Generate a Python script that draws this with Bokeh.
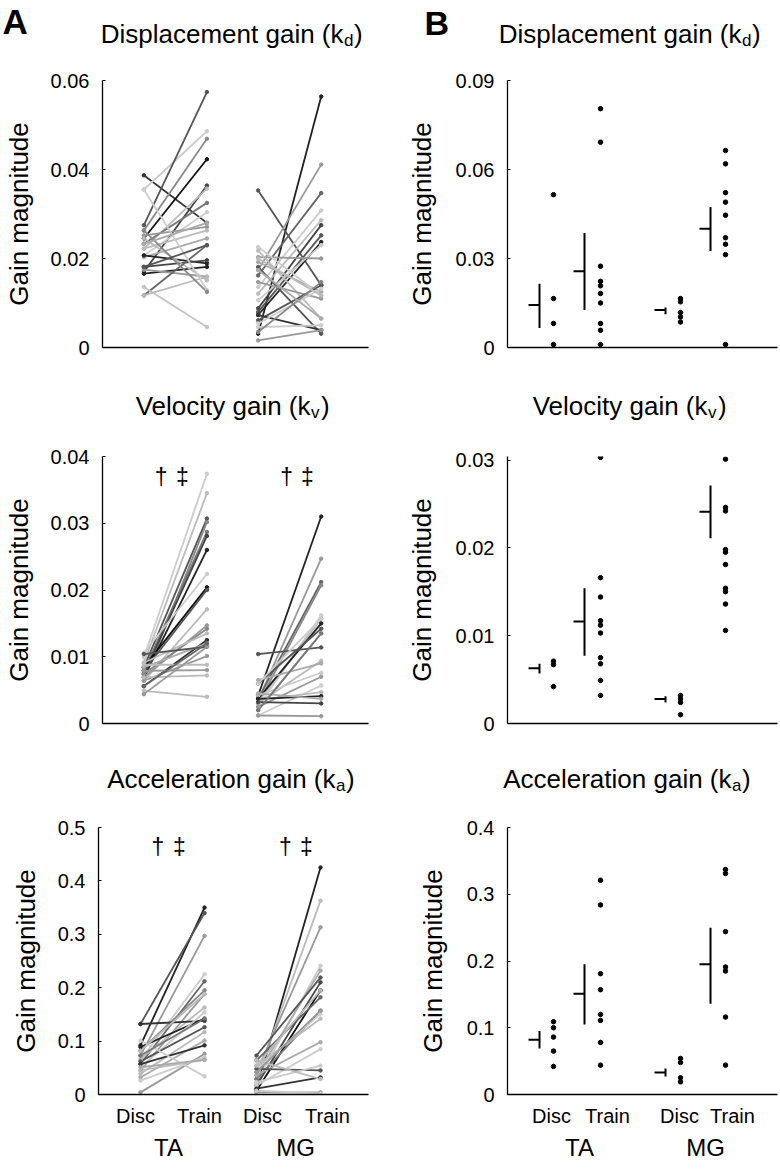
from bokeh.plotting import figure
from bokeh.models import Range1d, FixedTicker, LinearAxis, Label, ColumnDataSource
from bokeh.core.properties import value
from bokeh.layouts import column, row
from bokeh.embed import file_html
from bokeh.resources import INLINE

FONT = "Liberation Sans"

# ---------------- DATA ----------------
groups = ["TA", "MG"]
conditions = ["Disc", "Train"]

# Panel A: individual subjects (Disc -> Train)
kd_TA_disc = [0.0387, 0.0355, 0.0275, 0.0245, 0.0263, 0.0170, 0.0222, 0.0233, 0.0207, 0.0252, 0.0222, 0.0203,
              0.0207, 0.0181, 0.0166, 0.0175, 0.0245, 0.0117, 0.0136, 0.0117, 0.0355, 0.0263, 0.0181, 0.0233]
kd_TA_train = [0.0280, 0.0486, 0.0574, 0.0423, 0.0469, 0.0364, 0.0357, 0.0325, 0.0304, 0.0271, 0.0263, 0.0245,
               0.0189, 0.0196, 0.0181, 0.0159, 0.0151, 0.0230, 0.0046, 0.0159, 0.0129, 0.0125, 0.0230, 0.0280]
kd_MG_disc = [0.0031, 0.0353, 0.0174, 0.0162, 0.0136, 0.0121, 0.0088, 0.0080, 0.0073, 0.0106, 0.0203, 0.0192,
              0.0181, 0.0226, 0.0218, 0.0147, 0.0061, 0.0073, 0.0054, 0.0046, 0.0016, 0.0035, 0.0200, 0.0174]
kd_MG_train = [0.0564, 0.0140, 0.0411, 0.0347, 0.0308, 0.0286, 0.0275, 0.0252, 0.0237, 0.0230, 0.0200, 0.0125,
               0.0031, 0.0117, 0.0065, 0.0110, 0.0140, 0.0039, 0.0132, 0.0050, 0.0039, 0.0147, 0.0117, 0.0065]

kv_TA_disc = [0.0099, 0.0091, 0.0084, 0.0064, 0.0079, 0.0074, 0.0069, 0.0106, 0.0084, 0.0079, 0.0064, 0.0069,
              0.0074, 0.0091, 0.0056, 0.0084, 0.0104, 0.0064, 0.0088, 0.0079, 0.0069, 0.0049, 0.0044, 0.0056]
kv_TA_train = [0.0374, 0.0345, 0.0307, 0.0302, 0.0287, 0.0281, 0.0260, 0.0224, 0.0204, 0.0200, 0.0171, 0.0147,
               0.0142, 0.0135, 0.0125, 0.0120, 0.0115, 0.0101, 0.0088, 0.0080, 0.0072, 0.0040, 0.0115, 0.0120]
kv_MG_disc = [0.0042, 0.0035, 0.0037, 0.0030, 0.0025, 0.0032, 0.0037, 0.0060, 0.0020, 0.0104, 0.0030,
              0.0065, 0.0042, 0.0025, 0.0012, 0.0035, 0.0037, 0.0032, 0.0012, 0.0045, 0.0020, 0.0060]
kv_MG_train = [0.0310, 0.0247, 0.0212, 0.0207, 0.0162, 0.0157, 0.0150, 0.0142, 0.0135, 0.0114, 0.0094,
               0.0090, 0.0076, 0.0070, 0.0057, 0.0047, 0.0041, 0.0030, 0.0011, 0.0037, 0.0135, 0.0157]

ka_TA_disc = [0.092, 0.132, 0.073, 0.064, 0.057, 0.082, 0.045, 0.067, 0.132, 0.089, 0.051,
              0.062, 0.039, 0.032, 0.057, 0.004, 0.026, 0.045, 0.101, 0.073, 0.082, 0.051]
ka_TA_train = [0.350, 0.340, 0.297, 0.225, 0.212, 0.195, 0.188, 0.163, 0.138, 0.142, 0.154,
               0.126, 0.117, 0.101, 0.092, 0.076, 0.070, 0.065, 0.034, 0.142, 0.188, 0.065]
ka_MG_disc = [0.011, 0.029, 0.042, 0.023, 0.036, 0.073, 0.017, 0.007, 0.064, 0.029, 0.048,
              0.054, 0.036, 0.017, 0.048, 0.023, 0.011, 0.064, 0.004, 0.007, 0.042, 0.054]
ka_MG_train = [0.425, 0.363, 0.313, 0.241, 0.232, 0.219, 0.210, 0.195, 0.182, 0.157, 0.151,
               0.142, 0.098, 0.085, 0.045, 0.054, 0.032, 0.029, 0.004, 0.002, 0.157, 0.195]

# Panel B: group data (TA Disc, TA Train, MG Disc, MG Train)
bkd_dots = [[0.0515, 0.0165, 0.0081, 0.0010],
            [0.0805, 0.0692, 0.0274, 0.0223, 0.0208, 0.0182, 0.0150, 0.0081, 0.0058, 0.0010],
            [0.0165, 0.0154, 0.0118, 0.0103, 0.0086],
            [0.0664, 0.0619, 0.0522, 0.0490, 0.0446, 0.0370, 0.0348, 0.0313, 0.0010]]
bkd_mean = [0.0143, 0.0257, 0.0126, 0.0400]
bkd_lo = [0.0066, 0.0126, 0.0112, 0.0325]
bkd_hi = [0.0215, 0.0386, 0.0135, 0.0474]

bkv_dots = [[0.0071, 0.0067, 0.0042],
            [0.0303, 0.0166, 0.0144, 0.0117, 0.0112, 0.0103, 0.0075, 0.0068, 0.0049, 0.0032],
            [0.0032, 0.0028, 0.0024, 0.0010],
            [0.0301, 0.0246, 0.0242, 0.0198, 0.0195, 0.0181, 0.0154, 0.0150, 0.0136, 0.0106]]
bkv_mean = [0.0063, 0.0116, 0.0028, 0.0241]
bkv_lo = [0.0057, 0.0077, 0.0024, 0.0211]
bkv_hi = [0.0068, 0.0154, 0.0031, 0.0271]

bka_dots = [[0.109, 0.100, 0.086, 0.065, 0.042],
            [0.321, 0.284, 0.181, 0.157, 0.120, 0.111, 0.078, 0.044],
            [0.054, 0.048, 0.025, 0.019],
            [0.337, 0.331, 0.244, 0.191, 0.185, 0.116, 0.044]]
bka_mean = [0.082, 0.151, 0.033, 0.195]
bka_lo = [0.069, 0.105, 0.027, 0.136]
bka_hi = [0.095, 0.195, 0.039, 0.250]

# Axis ticks / labels
kd_A_ticks = [0, 0.02, 0.04, 0.06]
kd_A_labels = ["0", "0.02", "0.04", "0.06"]
kv_A_ticks = [0, 0.01, 0.02, 0.03, 0.04]
kv_A_labels = ["0", "0.01", "0.02", "0.03", "0.04"]
ka_A_ticks = [0, 0.1, 0.2, 0.3, 0.4, 0.5]
ka_A_labels = ["0", "0.1", "0.2", "0.3", "0.4", "0.5"]
kd_B_ticks = [0, 0.03, 0.06, 0.09]
kd_B_labels = ["0", "0.03", "0.06", "0.09"]
kv_B_ticks = [0, 0.01, 0.02, 0.03]
kv_B_labels = ["0", "0.01", "0.02", "0.03"]
ka_B_ticks = [0, 0.1, 0.2, 0.3, 0.4]
ka_B_labels = ["0", "0.1", "0.2", "0.3", "0.4"]

y_label = "Gain magnitude"
titles = [("Displacement gain (k", "d", ")"), ("Velocity gain (k", "v", ")"), ("Acceleration gain (k", "a", ")")]
panel_letters = ["A", "B"]
significance = ["\u2020", "\u2021"]

# ---------------- STYLE ----------------
kd_TA_shade = ["#333", "#ccc", "#555", "#111", "#888", "#444", "#bbb", "#777", "#ccc", "#999", "#bbb", "#aaa",
               "#222", "#444", "#222", "#999", "#bbb", "#666", "#c4c4c4", "#bbb", "#ccc", "#888", "#555", "#aaa"]
kd_MG_shade = ["#222", "#555", "#999", "#666", "#ccc", "#bbb", "#444", "#555", "#222", "#ccc", "#999", "#aaa",
               "#555", "#ccc", "#bbb", "#999", "#555", "#333", "#ccc", "#ccc", "#999", "#888", "#bbb", "#aaa"]
kv_TA_shade = ["#ccc", "#bbb", "#555", "#888", "#777", "#444", "#222", "#ccc", "#111", "#555", "#bbb", "#999",
               "#888", "#bbb", "#333", "#aaa", "#555", "#999", "#bbb", "#999", "#bbb", "#bbb", "#999", "#666"]
kv_MG_shade = ["#222", "#999", "#666", "#888", "#ccc", "#bbb", "#222", "#555", "#bbb", "#555", "#bbb",
               "#aaa", "#ccc", "#999", "#ccc", "#bbb", "#222", "#444", "#999", "#aaa", "#777", "#ccc"]
ka_TA_shade = ["#222", "#555", "#999", "#ccc", "#666", "#888", "#999", "#bbb", "#333", "#222", "#ccc",
               "#555", "#bbb", "#aaa", "#333", "#999", "#ccc", "#bbb", "#ccc", "#777", "#bbb", "#aaa"]
ka_MG_shade = ["#222", "#bbb", "#999", "#ccc", "#aaa", "#555", "#444", "#111", "#666", "#777", "#ccc",
               "#bbb", "#aaa", "#ccc", "#555", "#ccc", "#333", "#bbb", "#999", "#ccc", "#999", "#bbb"]

# x positions (1 unit = 10 px from frame left)
XMAX = 27.0
A_pos = [4.2, 10.6, 15.8, 22.2]          # TA Disc, TA Train, MG Disc, MG Train
A_cond_tick = [3.7, 10.1, 16.4, 22.9]
A_group_tick = [7.0, 19.7]
B_dot_pos = [4.6, 9.3, 17.3, 21.8]
B_bar_pos = [3.2, 7.7, 15.8, 20.3]
B_cap = 1.1
B_cond_tick = [4.4, 10.0, 17.2, 22.5]
B_group_tick = [7.2, 19.8]
TOTAL_W = 778


class Geo:
    """figure geometry in page pixels"""
    def __init__(self, fx, fy, w, h, fl, fr, ft, fb, ymax):
        self.fx, self.fy, self.w, self.h = fx, fy, w, h
        self.fl, self.fr, self.ft, self.fb = fl, fr, ft, fb   # frame edges in page px
        self.ymax = ymax

    def x(self, px):
        return (px - self.fl) / (self.fr - self.fl) * XMAX

    def y(self, py):
        return (self.fb - py) / (self.fb - self.ft) * self.ymax


def make_fig(g, yticks, ylabels, lab_standoff):
    p = figure(width=g.w, height=g.h, x_range=Range1d(0, XMAX), y_range=Range1d(0, g.ymax),
               output_backend="svg", toolbar_location=None,
               min_border_left=g.fl - g.fx, min_border_right=g.fx + g.w - g.fr,
               min_border_top=g.ft - g.fy, min_border_bottom=g.fy + g.h - g.fb)
    p.outline_line_color = None
    p.xgrid.visible = False
    p.ygrid.visible = False
    p.background_fill_color = "white"
    p.border_fill_color = "white"
    yax = p.yaxis[0]
    yax.ticker = FixedTicker(ticks=yticks)
    yax.major_label_overrides = dict(zip(yticks, ylabels))
    yax.minor_tick_line_color = None
    yax.major_tick_in = 3
    yax.major_tick_out = 0
    yax.major_tick_line_color = "black"
    yax.axis_line_color = "black"
    yax.axis_line_width = 1.3
    yax.major_label_text_font = FONT
    yax.major_label_text_font_size = "20px"
    yax.major_label_text_color = "black"
    yax.major_label_standoff = 13
    yax.axis_label = y_label
    yax.axis_label_text_font = FONT
    yax.axis_label_text_font_size = "26px"
    yax.axis_label_text_font_style = "normal"
    yax.axis_label_text_color = "black"
    yax.axis_label_standoff = lab_standoff
    xax = p.xaxis[0]
    xax.ticker = FixedTicker(ticks=[])
    xax.axis_line_color = "black"
    xax.axis_line_width = 1.3
    xax.major_tick_line_color = None
    xax.minor_tick_line_color = None
    return p


def title_fig(top, h, items):
    """strip above a row of panels; coordinates are page pixels (y = vertical text centre)"""
    t = figure(width=TOTAL_W, height=h, x_range=Range1d(0, TOTAL_W), y_range=Range1d(top + h, top),
               output_backend="svg", toolbar_location=None, x_axis_location=None, y_axis_location=None,
               min_border_left=0, min_border_right=0, min_border_top=0, min_border_bottom=0)
    t.outline_line_color = None
    t.xgrid.visible = False
    t.ygrid.visible = False
    t.background_fill_color = "white"
    t.border_fill_color = "white"
    for (x, y, txt, size, align, style) in items:
        t.text(x=[x], y=[y], text=[txt], text_font=value(FONT), text_font_size=value(size),
               text_font_style=style, text_align=align, text_baseline="middle", text_color="black")
    return t


def title_items(parts, kx, yc):
    main, sub, close = parts
    return [(kx, yc, main, "26px", "right", "normal"),
            (kx + 0.5, yc + 7, sub, "17px", "left", "normal"),
            (kx + 10.5, yc, close, "26px", "left", "normal")]


def lab(p, g, px, py, text, size, align="left", baseline="alphabetic", style="normal"):
    p.add_layout(Label(x=g.x(px), y=g.y(py), text=text, text_align=align, text_baseline=baseline,
                       text_font=FONT, text_font_size=size, text_font_style=style, text_color="black"))


def add_daggers(p, g, xs, yc):
    for x, s in zip(xs, significance * 2):
        lab(p, g, x, yc, s, "23px", align="center", baseline="middle")


def draw_pairs(p, disc_ta, train_ta, shade_ta, disc_mg, train_mg, shade_mg):
    for disc, train, shade, x0, x1 in [(disc_ta, train_ta, shade_ta, A_pos[0], A_pos[1]),
                                       (disc_mg, train_mg, shade_mg, A_pos[2], A_pos[3])]:
        src = ColumnDataSource(dict(x0=[x0] * len(disc), x1=[x1] * len(disc), y0=disc, y1=train, c=shade))
        p.segment(x0="x0", y0="y0", x1="x1", y1="y1", line_color="c", line_width=1.8, source=src)
        p.scatter(x="x0", y="y0", size=3.5, fill_color="c", line_color="c", source=src)
        p.scatter(x="x1", y="y1", size=3.5, fill_color="c", line_color="c", source=src)


def draw_group(p, dots, mean, lo, hi):
    xs, ys = [], []
    for i, d in enumerate(dots):
        xs += [B_dot_pos[i]] * len(d)
        ys += d
    p.scatter(x=xs, y=ys, size=4.5, fill_color="black", line_color="black")
    p.segment(x0=B_bar_pos, y0=lo, x1=B_bar_pos, y1=hi, line_color="black", line_width=2)
    p.segment(x0=[b - B_cap for b in B_bar_pos], y0=mean, x1=B_bar_pos, y1=mean,
              line_color="black", line_width=2)


def add_bottom_axes(p, cond_ticks, group_ticks):
    xax = p.xaxis[0]
    xax.ticker = FixedTicker(ticks=cond_ticks)
    xax.major_label_overrides = dict(zip(cond_ticks, conditions * 2))
    xax.major_label_text_font = FONT
    xax.major_label_text_font_size = "20px"
    xax.major_label_text_color = "black"
    xax.major_label_standoff = 10
    xax.major_tick_in = 0
    xax.major_tick_out = 0
    ax2 = LinearAxis(ticker=FixedTicker(ticks=group_ticks),
                     major_label_overrides=dict(zip(group_ticks, groups)),
                     axis_line_color=None, major_tick_line_color=None, minor_tick_line_color=None,
                     major_tick_in=0, major_tick_out=0,
                     major_label_text_font=FONT, major_label_text_font_size="24px",
                     major_label_text_color="black", major_label_standoff=4)
    p.add_layout(ax2, "below")


# ---------------- FIGURES ----------------
# Row 1
t1 = title_fig(0, 60,
               [(2, 21, panel_letters[0], "35px", "left", "bold"),
                (424, 22, panel_letters[1], "34px", "left", "bold")]
               + title_items(titles[0], 343, 33) + title_items(titles[0], 741, 33))
gA1 = Geo(0, 60, 390, 310, 98, 368, 80, 347, 0.06)
gB1 = Geo(390, 60, 388, 310, 507, 777, 80, 347, 0.09)
pA1 = make_fig(gA1, kd_A_ticks, kd_A_labels, 14)
draw_pairs(pA1, kd_TA_disc, kd_TA_train, kd_TA_shade, kd_MG_disc, kd_MG_train, kd_MG_shade)
pB1 = make_fig(gB1, kd_B_ticks, kd_B_labels, 16)
draw_group(pB1, bkd_dots, bkd_mean, bkd_lo, bkd_hi)

# Row 2
t2 = title_fig(370, 66, title_items(titles[1], 310, 405) + title_items(titles[1], 707, 405))
gA2 = Geo(0, 436, 390, 324, 98, 368, 456, 723, 0.04)
gB2 = Geo(390, 436, 388, 324, 507, 777, 452, 723, 0.0304)
pA2 = make_fig(gA2, kv_A_ticks, kv_A_labels, 14)
draw_pairs(pA2, kv_TA_disc, kv_TA_train, kv_TA_shade, kv_MG_disc, kv_MG_train, kv_MG_shade)
add_daggers(pA2, gA2, [157.5, 179, 285, 306], 476)
pB2 = make_fig(gB2, kv_B_ticks, kv_B_labels, 16)
draw_group(pB2, bkv_dots, bkv_mean, bkv_lo, bkv_hi)

# Row 3
t3 = title_fig(760, 47, title_items(titles[2], 335, 778) + title_items(titles[2], 731, 778))
gA3 = Geo(0, 807, 390, 361, 98, 368, 827, 1094, 0.5)
gB3 = Geo(390, 807, 388, 361, 507, 777, 827, 1094, 0.4)
pA3 = make_fig(gA3, ka_A_ticks, ka_A_labels, 14)
draw_pairs(pA3, ka_TA_disc, ka_TA_train, ka_TA_shade, ka_MG_disc, ka_MG_train, ka_MG_shade)
add_daggers(pA3, gA3, [157.5, 179, 285, 306], 846)
add_bottom_axes(pA3, A_cond_tick, A_group_tick)
pB3 = make_fig(gB3, ka_B_ticks, ka_B_labels, 16)
draw_group(pB3, bka_dots, bka_mean, bka_lo, bka_hi)
add_bottom_axes(pB3, B_cond_tick, B_group_tick)

layout = column(t1, row(pA1, pB1), t2, row(pA2, pB2), t3, row(pA3, pB3))

with open("out.html", "w") as f:
    f.write(file_html(layout, INLINE))
